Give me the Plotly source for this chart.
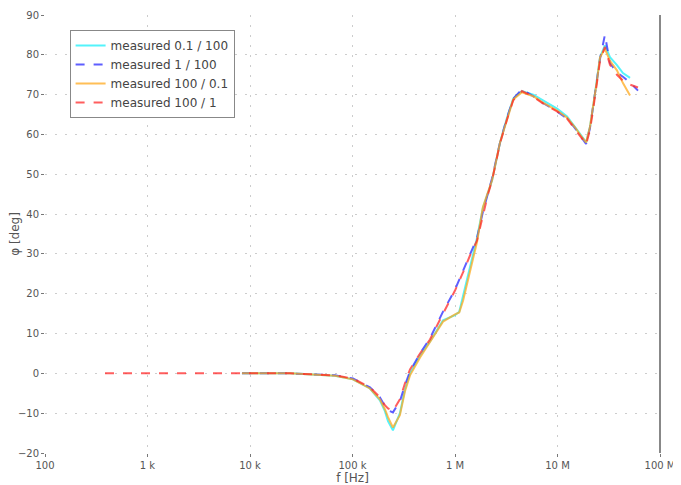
import plotly.graph_objects as go

# ---- data ----
f_red = [385, 8350, 24500, 67500, 101000, 148000, 185000, 207000, 222000, 248000, 290000,
         325000, 364000, 456000, 570000, 764000, 1.0e6, 1.2e6, 1.4e6, 1.64e6, 1.87e6, 2.1e6,
         2.3e6, 2.75e6, 3.2e6, 3.7e6, 4.5e6, 5.8e6, 7.2e6, 9.9e6, 12.4e6, 14.8e6, 17.3e6, 19e6,
         20.7e6, 22.2e6, 24.3e6, 26e6, 29e6, 32.5e6, 38e6, 43.5e6, 51e6, 61e6]
v_red = [0, 0, 0, -0.5, -1.3, -3.5, -6, -8, -8.8, -9.5, -6.5,
         -2.5, 1, 5, 8.5, 15, 20.8, 25.4, 29.6, 33.4, 40, 45,
         48.5, 57.8, 63.6, 68.6, 70.9, 69.5, 67.8, 65.8, 64, 61.5, 59, 57.5,
         61, 66, 72.5, 78.5, 82, 77.5, 75, 73.5, 72.5, 71.8]

f_blue = [8350, 24500, 67500, 101000, 148000, 185000, 207000, 222000, 248000, 290000,
          325000, 364000, 456000, 570000, 764000, 1.0e6, 1.2e6, 1.4e6, 1.64e6, 1.87e6, 2.1e6,
          2.3e6, 2.75e6, 3.2e6, 3.7e6, 4.5e6, 5.8e6, 7.2e6, 9.9e6, 12.4e6, 14.8e6, 17.3e6, 19e6,
          20.7e6, 22.2e6, 24.3e6, 26e6, 29e6, 32.5e6, 38e6, 43.5e6, 51e6, 61e6]
v_blue = [0, 0, -0.5, -1.3, -3.5, -6, -8.2, -9.3, -9.8, -7,
          -3, 0.5, 5, 8.8, 15.5, 21, 25.8, 30, 34, 40.5, 45.5,
          49, 58, 64, 69, 71.3, 69.6, 67.9, 65.8, 64, 61.6, 59, 57.6,
          61.5, 67, 73, 79, 85, 78, 75.5, 74.5, 73, 71]

f_cyan = [8350, 24500, 67500, 101000, 148000, 185000, 207000, 222000, 248000, 290000,
          325000, 364000, 456000, 570000, 764000, 1.0e6, 1.1e6, 1.2e6, 1.4e6, 1.64e6, 1.87e6,
          2.1e6, 2.3e6, 2.75e6, 3.2e6, 3.7e6, 4.5e6, 5.8e6, 7.2e6, 9.9e6, 12.4e6, 14.8e6, 17.3e6,
          19e6, 20.7e6, 22.2e6, 24.3e6, 26e6, 29e6, 32.5e6, 38e6, 43.5e6, 51e6]
v_cyan = [0, 0, -0.6, -1.5, -3.8, -6.8, -9.5, -12, -14.3, -10,
          -4, 0, 4.5, 8, 13.3, 14.6, 15.5, 19.5, 26, 34, 41.5,
          45.5, 48.5, 58, 64, 69, 70.9, 70, 68.5, 66.5, 64.5, 62, 59.5,
          58, 61.8, 66.8, 73.6, 79.4, 82.4, 79.4, 77.4, 75.4, 74.2]

f_orange = [8350, 24500, 67500, 101000, 148000, 185000, 207000, 222000, 248000, 290000,
            325000, 364000, 456000, 570000, 764000, 1.0e6, 1.1e6, 1.2e6, 1.4e6, 1.64e6, 1.87e6,
            2.1e6, 2.3e6, 2.75e6, 3.2e6, 3.7e6, 4.5e6, 5.8e6, 7.2e6, 9.9e6, 12.4e6, 14.8e6, 17.3e6,
            19e6, 20.7e6, 22.2e6, 24.3e6, 26e6, 29e6, 32.5e6, 38e6, 43.5e6, 51e6]
v_orange = [0, 0, -0.6, -1.5, -3.8, -6.5, -9, -11, -13.6, -10.5,
            -4.5, -0.5, 4, 7.8, 13, 14.8, 15.3, 18.3, 25.9, 33, 41.7,
            45.3, 48.5, 58, 63.8, 68.8, 70.6, 69.6, 68, 66, 64.2, 61.8, 59.3,
            58, 61.8, 66.8, 73.6, 79.4, 81.5, 78.5, 76.1, 72.9, 69.8]

names = ["measured 0.1 / 100", "measured 1 / 100", "measured 100 / 0.1", "measured 100 / 1"]
tick_vals = [1e2, 1e3, 1e4, 1e5, 1e6, 1e7, 1e8]
tick_text = ["100", "1 k", "10 k", "100 k", "1 M", "10 M", "100 M"]
y_ticks = [-20, -10, 0, 10, 20, 30, 40, 50, 60, 70, 80, 90]

fig = go.Figure()
fig.add_trace(go.Scatter(x=f_cyan, y=v_cyan, name=names[0], mode="lines",
                         line=dict(color="rgba(40,240,250,0.8)", width=2)))
fig.add_trace(go.Scatter(x=f_blue, y=v_blue, name=names[1], mode="lines",
                         line=dict(color="rgba(40,40,255,0.75)", width=2, dash="dash")))
fig.add_trace(go.Scatter(x=f_orange, y=v_orange, name=names[2], mode="lines",
                         line=dict(color="rgba(255,170,30,0.75)", width=2)))
fig.add_trace(go.Scatter(x=f_red, y=v_red, name=names[3], mode="lines",
                         line=dict(color="rgba(255,40,40,0.75)", width=2, dash="dash")))

grid = dict(showgrid=True, gridcolor="#cccccc", griddash="2px,8px", gridwidth=1,
            zeroline=False, automargin=False)
fig.update_xaxes(type="log", range=[2, 8], tickvals=tick_vals, ticktext=tick_text,
                 ticks="outside", ticklen=3, tickcolor="#777777",
                 title=dict(text="f [Hz]", standoff=0), **grid)
fig.update_yaxes(range=[-20, 90], tickvals=y_ticks, ticks="outside", ticklen=3,
                 tickcolor="#777777", title=dict(text="φ [deg]", standoff=0), **grid)
fig.add_shape(type="line", xref="paper", yref="paper", x0=1, x1=1, y0=0, y1=1,
              line=dict(color="#888888", width=2))
fig.update_layout(
    width=673, height=477,
    margin=dict(l=37, r=21, t=7, b=32),
    plot_bgcolor="white", paper_bgcolor="white",
    font=dict(family="DejaVu Sans", size=10, color="#555555"),
    legend=dict(x=0.04, y=0.966, xanchor="left", yanchor="top",
                bgcolor="white", bordercolor="#888888", borderwidth=1,
                font=dict(size=12, color="#444444"), tracegroupgap=0),
    showlegend=True,
)
fig.write_html("out.html")
